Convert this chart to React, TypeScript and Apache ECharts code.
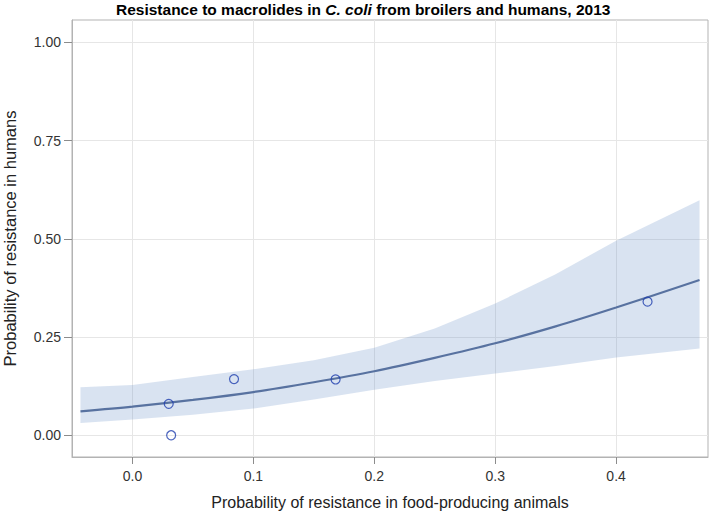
import { useEffect, useRef } from "react";
import * as echarts from "echarts";

const titleStart = "Resistance to macrolides in ";
const titleItalic = "C. coli";
const titleEnd = " from broilers and humans, 2013";
const xAxisTitle = "Probability of resistance in food-producing animals";
const yAxisTitle = "Probability of resistance in humans";

const xTicks = [0, 0.1, 0.2, 0.3, 0.4];
const yTicks = [0, 0.25, 0.5, 0.75, 1.0];

// observed points
const obsX = [0.030, 0.032, 0.084, 0.168, 0.426];
const obsY = [0.080, 0.000, 0.143, 0.142, 0.340];

// fitted curve and confidence band
const fitX = [-0.043, 0.0, 0.05, 0.1, 0.15, 0.2, 0.25, 0.3, 0.35, 0.4, 0.469];
const fitY = [0.061, 0.073, 0.090, 0.110, 0.135, 0.163, 0.197, 0.234, 0.277, 0.325, 0.395];
const bandUpper = [0.122, 0.128, 0.148, 0.168, 0.191, 0.223, 0.272, 0.335, 0.41, 0.495, 0.598];
const bandLower = [0.031, 0.040, 0.052, 0.068, 0.091, 0.116, 0.138, 0.157, 0.176, 0.198, 0.221];

const FONT = "'Liberation Sans', Arial, Helvetica, sans-serif";
const FRAME = "#b3b3b3";

export default function App() {
  const ref = useRef<HTMLDivElement>(null);
  useEffect(() => {
    const chart = echarts.init(ref.current!, null, { renderer: "svg" });
    chart.setOption({
      animation: false,
      backgroundColor: "#ffffff",
      textStyle: { fontFamily: FONT },
      title: {
        text: `{n|${titleStart}}{i|${titleItalic}}{n|${titleEnd}}`,
        left: 111,
        top: -4,
        textStyle: {
          rich: {
            n: { fontSize: 15.5, fontWeight: "bold", color: "#000", fontFamily: FONT },
            i: { fontSize: 15.5, fontWeight: "bold", fontStyle: "italic", color: "#000", fontFamily: FONT },
          },
        },
      },
      grid: {
        left: 72,
        top: 20,
        width: 636,
        height: 437,
        show: true,
        borderColor: FRAME,
        borderWidth: 1,
        backgroundColor: "transparent",
        containLabel: false,
        outerBoundsMode: "none",
      },
      xAxis: {
        type: "value",
        min: -0.05,
        max: 0.476,
        name: xAxisTitle,
        nameLocation: "middle",
        nameGap: 37,
        nameTextStyle: { fontSize: 16, color: "#222", fontFamily: FONT },
        axisLine: { show: true, onZero: false, lineStyle: { color: FRAME, width: 1 } },
        axisTick: { show: true, inside: false, customValues: xTicks, length: 7, lineStyle: { color: "#8c8c8c", width: 1 } },
        axisLabel: {
          customValues: xTicks,
          formatter: (v: number) => v.toFixed(1),
          fontSize: 14,
          color: "#333",
          margin: 12,
          fontFamily: FONT,
        },
        splitLine: { show: true, lineStyle: { color: "#e6e6e6", width: 1 } },
      },
      yAxis: {
        type: "value",
        min: -0.0553,
        max: 1.0567,
        name: yAxisTitle,
        nameLocation: "middle",
        nameGap: 54,
        nameTextStyle: { fontSize: 16.5, color: "#222", fontFamily: FONT },
        axisLine: { show: true, onZero: false, lineStyle: { color: FRAME, width: 1 } },
        axisTick: { show: true, inside: false, customValues: yTicks, length: 8, lineStyle: { color: "#8c8c8c", width: 1 } },
        axisLabel: {
          customValues: yTicks,
          formatter: (v: number) => v.toFixed(2),
          fontSize: 14,
          color: "#333",
          margin: 11,
          fontFamily: FONT,
        },
        splitLine: { show: true, lineStyle: { color: "#e6e6e6", width: 1 } },
      },
      series: [
        {
          type: "custom",
          z: 1,
          silent: true,
          data: fitX.map((x, i) => [x, bandLower[i], bandUpper[i]]),
          encode: { x: 0, y: [1, 2] },
          renderItem: (params: any, api: any) => {
            if (params.dataIndex !== 0) return null;
            const pts: number[][] = [];
            for (let i = 0; i < fitX.length; i++) pts.push(api.coord([fitX[i], bandUpper[i]]));
            for (let i = fitX.length - 1; i >= 0; i--) pts.push(api.coord([fitX[i], bandLower[i]]));
            return {
              type: "polygon",
              shape: { points: pts },
              style: { fill: "rgba(103,143,199,0.25)", stroke: "none" },
            };
          },
        },
        {
          type: "line",
          z: 3,
          data: fitX.map((x, i) => [x, fitY[i]]),
          smooth: 0.3,
          symbol: "none",
          lineStyle: { color: "#5872a0", width: 2.2 },
          silent: true,
        },
        {
          type: "scatter",
          z: 4,
          data: obsX.map((x, i) => [x, obsY[i]]),
          symbol: "circle",
          symbolSize: 9,
          itemStyle: { color: "rgba(0,0,0,0)", borderColor: "#1f3fae", borderWidth: 1.2 },
          silent: true,
        },
      ],
    });
    return () => chart.dispose();
  }, []);
  return (
    <div
      ref={ref}
      style={{ position: "fixed", left: 0, top: 0, width: 709, height: 512, background: "#fff" }}
    />
  );
}
